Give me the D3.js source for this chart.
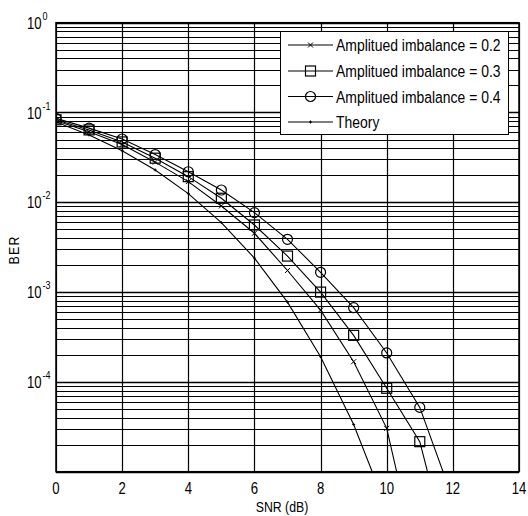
<!DOCTYPE html>
<html><head><meta charset="utf-8">
<script src="https://cdn.jsdelivr.net/npm/d3@7"></script>
<style>
body{margin:0;background:#fff;}
text{font-family:"Liberation Sans",Arial,sans-serif;fill:#000;}
</style></head><body>
<svg id="chart" width="528" height="516"></svg>
<script>
const snr = [0,1,2,3,4,5,6,7,8,9,10,11,12];
const ber02 = [0.081,0.061,0.044,0.028,0.017,0.0091,0.00452,0.00174,6.3e-4,1.68e-4,3.04e-5,7.5e-7];
const ber03 = [0.083,0.064,0.047,0.031,0.0193,0.0111,0.00559,0.00252,0.001,3.3e-4,8.5e-5,2.16e-5,8e-7];
const ber04 = [0.086,0.067,0.0507,0.034,0.0219,0.0137,0.00767,0.00387,0.00166,6.7e-4,2.1e-4,5.2e-5,5e-6];
const berTheory = [0.0786,0.0563,0.0375,0.0229,0.0125,0.00595,0.00239,7.73e-4,1.91e-4,3.36e-5,3.87e-6];
const xTicks = [0,2,4,6,8,10,12,14];
const yDecades = [0,-1,-2,-3,-4,-5];
const yTickExps = [0,-1,-2,-3,-4];
const legendLabels = ["Amplitued imbalance = 0.2","Amplitued imbalance = 0.3","Amplitued imbalance = 0.4","Theory"];

const L=56, T=22.7, R=519, B=471.7, SX=0.82;
const svg=d3.select("#chart");
const x=d3.scaleLinear().domain([0,14]).range([L,R]);
const y=d3.scaleLog().domain([1e-5,1]).range([B,T]);

// narrow text helper
function ntext(sel,tx,ty,size,anchor,rot){
  return sel.append("text").attr("transform",`translate(${tx},${ty})${rot?" rotate("+rot+")":""} scale(${SX},1)`)
    .attr("font-size",size).attr("text-anchor",anchor||"start");
}

// grid
const g=svg.append("g");
const minor=[];
yDecades.slice(0,-1).forEach(e=>{for(let k=2;k<=9;k++) minor.push(k*Math.pow(10,e-1));});
g.selectAll(".mn").data(minor).enter().append("line")
 .attr("x1",L).attr("x2",R).attr("y1",d=>Math.round(y(d))+0.5).attr("y2",d=>Math.round(y(d))+0.5)
 .attr("stroke","#000").attr("stroke-width",1);
g.selectAll(".mj").data(yDecades.map(e=>Math.pow(10,e))).enter().append("line")
 .attr("x1",L).attr("x2",R).attr("y1",d=>Math.round(y(d))+0.5).attr("y2",d=>Math.round(y(d))+0.5)
 .attr("stroke","#000").attr("stroke-width",1.3);
g.selectAll(".vx").data(xTicks).enter().append("line")
 .attr("x1",d=>Math.round(x(d))+0.5).attr("x2",d=>Math.round(x(d))+0.5).attr("y1",T).attr("y2",B)
 .attr("stroke","#000").attr("stroke-width",1.2);
svg.append("rect").attr("x",L).attr("y",T).attr("width",R-L).attr("height",B-T)
 .attr("fill","none").attr("stroke","#000").attr("stroke-width",1.5);

// tick labels
xTicks.forEach(d=>{ ntext(svg,x(d),494,16,"middle").text(d); });
yTickExps.forEach(d=>{
  const t=ntext(svg,27,y(Math.pow(10,d))+6,16,"start");
  t.append("tspan").text("10");
  t.append("tspan").attr("dy",-9).attr("dx",1).attr("font-size",11).text(String(d));
});
ntext(svg,282,512,15,"middle").text("SNR (dB)");
ntext(svg,19,250,15,"middle",-90).attr("letter-spacing",1.5).text("BER");

// clip
svg.append("clipPath").attr("id","clip").append("rect").attr("x",L).attr("y",T).attr("width",R-L).attr("height",B-T);
const plot=svg.append("g").attr("clip-path","url(#clip)");
const line=d3.line().x((d,i)=>x(snr[i])).y(d=>y(d));
const series=[
 {v:ber02,m:"x"},{v:ber03,m:"s"},{v:ber04,m:"o"},{v:berTheory,m:"+"}
];
function marker(sel,m,cx,cy){
  if(m==="x"){const s=2.5;
    sel.append("path").attr("d",`M${cx-s},${cy-s}L${cx+s},${cy+s}M${cx-s},${cy+s}L${cx+s},${cy-s}`).attr("stroke","#000").attr("fill","none");}
  else if(m==="s"){const s=5;
    sel.append("rect").attr("x",cx-s).attr("y",cy-s).attr("width",2*s).attr("height",2*s).attr("fill","none").attr("stroke","#000").attr("stroke-width",1.2);}
  else if(m==="o"){
    sel.append("circle").attr("cx",cx).attr("cy",cy).attr("r",5).attr("fill","none").attr("stroke","#000").attr("stroke-width",1.2);}
  else {const s=1.5;
    sel.append("path").attr("d",`M${cx-s},${cy}L${cx+s},${cy}M${cx},${cy-s}L${cx},${cy+s}`).attr("stroke","#000").attr("fill","none");}
}
series.forEach(sr=>{
  plot.append("path").datum(sr.v).attr("d",line).attr("fill","none").attr("stroke","#000").attr("stroke-width",1.1);
  sr.v.forEach((v,i)=>{ if(v>=1e-5) marker(plot,sr.m,x(snr[i]),y(v)); });
});

// legend
const lg=svg.append("g");
lg.append("rect").attr("x",280.5).attr("y",31.5).attr("width",228).attr("height",103).attr("fill","#fff").attr("stroke","#000").attr("stroke-width",1);
const ly=[45,71,96.5,122];
series.forEach((sr,i)=>{
  lg.append("line").attr("x1",288).attr("x2",333).attr("y1",ly[i]).attr("y2",ly[i]).attr("stroke","#000").attr("stroke-width",1.1);
  marker(lg,sr.m,310.5,ly[i]);
  ntext(lg,336,ly[i]+6,17,"start").text(legendLabels[i]);
});
</script></body></html>
